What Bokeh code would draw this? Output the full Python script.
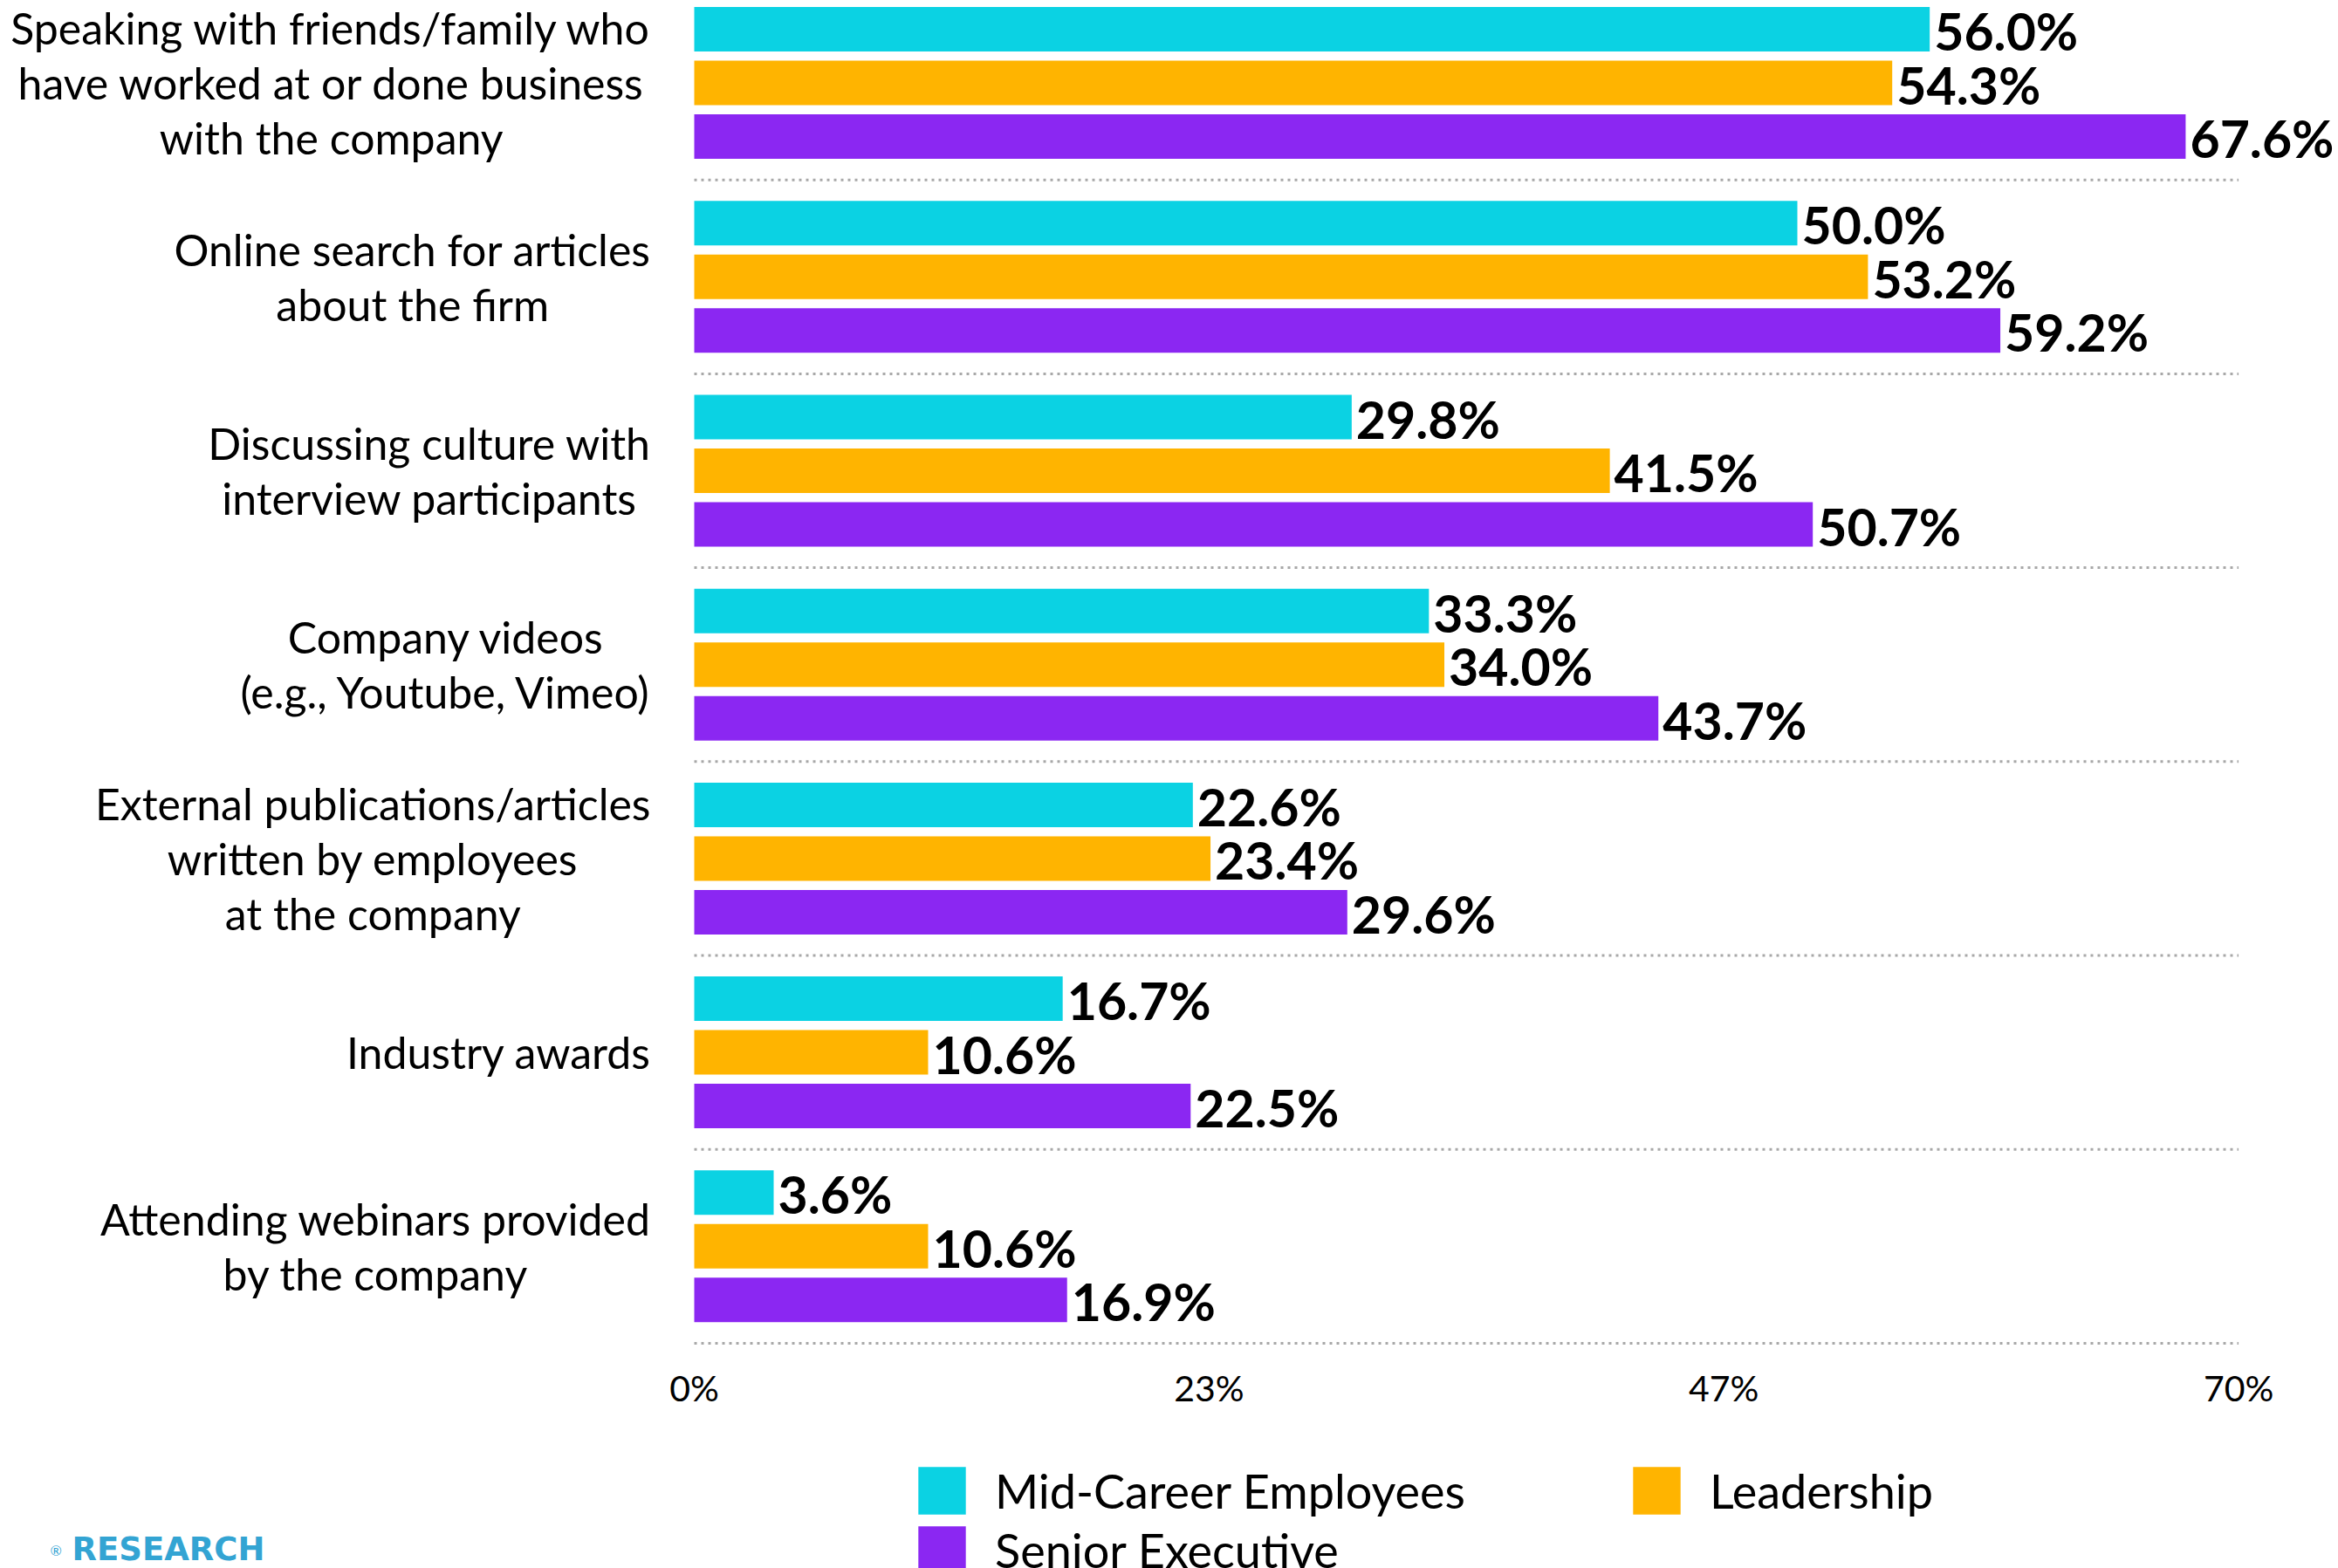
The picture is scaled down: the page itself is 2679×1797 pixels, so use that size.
import glob
import subprocess
from bokeh.plotting import figure
from bokeh.models import Range1d, ColumnDataSource, Legend, LegendItem
from bokeh.core.properties import value
from bokeh.embed import file_html
from bokeh.resources import INLINE

# ---------------- data ----------------
categories = [
    "Speaking with friends/family who\nhave worked at or done business\nwith the company",
    "Online search for articles\nabout the firm",
    "Discussing culture with\ninterview participants",
    "Company videos\n(e.g., Youtube, Vimeo)",
    "External publications/articles\nwritten by employees\nat the company",
    "Industry awards",
    "Attending webinars provided\nby the company",
]
series_names = ["Mid-Career Employees", "Leadership", "Senior Executive"]
mid_career = [56.0, 50.0, 29.8, 33.3, 22.6, 16.7, 3.6]
leadership = [54.3, 53.2, 41.5, 34.0, 23.4, 10.6, 10.6]
senior_exec = [67.6, 59.2, 50.7, 43.7, 29.6, 22.5, 16.9]
series_colors = ["#0BD2E3", "#FFB400", "#8B27F2"]
x_max = 70
tick_values = [0, 70 / 3, 140 / 3, 70]
tick_labels = ["0%", "23%", "47%", "70%"]
logo_text = "RESEARCH"

# ---------------- layout (pixels) ----------------
W, H = 2679, 1797
X0_PX = 795.0                      # x pixel of 0%
PX_PER_PCT = (2564.6 - X0_PX) / 70
PITCH = 222.2                      # pixels between group centers
C0 = 94.6                          # y pixel of first group center
BAR_H = 51 / PITCH
BAR_OFF = 61.5 / PITCH
CAT_FONT = 50
CAT_RIGHT_PX = 745


def px_x(px):
    return (px - X0_PX) / PX_PER_PCT


def px_y(py):
    return (py - C0) / PITCH


p = figure(width=W, height=H, output_backend="svg", toolbar_location=None,
           x_range=Range1d(px_x(0), px_x(W)), y_range=Range1d(px_y(H), px_y(0)),
           x_axis_location=None, y_axis_location=None,
           min_border_left=0, min_border_right=0,
           min_border_top=0, min_border_bottom=0)
p.outline_line_color = None
p.background_fill_color = "white"
p.border_fill_color = "white"
for g in p.grid:
    g.visible = False

n = len(categories)
idx = list(range(n))

# dotted separators
sep_y = [i + 0.5 for i in idx]
p.segment(x0=[0] * n, x1=[x_max] * n, y0=sep_y, y1=sep_y,
          line_color="#a8a8a8", line_width=3, line_dash="3 5")

renderers = []
label_sources = []
for s, (vals, col) in enumerate(zip([mid_career, leadership, senior_exec], series_colors)):
    off = (s - 1) * BAR_OFF
    ys = [i + off for i in idx]
    src = ColumnDataSource(dict(y=ys, v=vals, lab=[f"{v:.1f}%" for v in vals]))
    r = p.hbar(y="y", left=0, right="v", height=BAR_H, source=src,
               fill_color=col, line_color=None)
    renderers.append(r)
    label_sources.append(src)

for src in label_sources:
    p.text(x="v", y="y", text="lab", source=src, x_offset=5, y_offset=2,
           text_baseline="middle", text_align="left",
           text_font=value("Lato"), text_font_style="bold",
           text_font_size="59px", text_color="black")


# ---- category labels: lines centered, block right-aligned ----
def find_lato():
    try:
        out = subprocess.run(["fc-match", "-f", "%{file}", "Lato:style=Regular"],
                             capture_output=True, text=True, timeout=5).stdout.strip()
        if out and "lato" in out.lower():
            return out
    except Exception:
        pass
    for pat in ["/usr/share/fonts/**/Lato-Regular.ttf", "/usr/share/fonts/**/Lato*Regular*.ttf",
                "/usr/local/share/fonts/**/Lato*Regular*.ttf", "/usr/share/fonts/**/Lato*.ttf"]:
        hits = glob.glob(pat, recursive=True)
        if hits:
            return sorted(hits)[0]
    return None


LATO_PATH = find_lato()


def text_width(line, size):
    if LATO_PATH:
        try:
            from PIL import ImageFont
            return ImageFont.truetype(LATO_PATH, size).getlength(line)
        except Exception:
            pass
    return 0.47 * size * len(line)


cat_x = []
for c in categories:
    w = max(text_width(line, CAT_FONT) for line in c.split("\n"))
    cat_x.append(px_x(CAT_RIGHT_PX - w / 2))

p.text(x=cat_x, y=idx, text=categories, text_align="center", text_baseline="middle",
       text_font=value("Lato"), text_font_size=f"{CAT_FONT}px", text_color="black",
       text_line_height=1.05)

# x tick labels
p.text(x=tick_values, y=[px_y(1588.5)] * len(tick_values), text=tick_labels,
       text_align="center", text_baseline="middle", y_offset=1,
       text_font=value("Lato"), text_font_size="41px", text_color="black")

# legend (box glyphs are drawn with a 10% inset, so the glyph area is 54 / 0.8)
legend = Legend(items=[LegendItem(label=nm, renderers=[r]) for nm, r in zip(series_names, renderers)],
                orientation="horizontal", ncols=2, location=(1045, -13),
                padding=0, margin=0, border_line_color=None, background_fill_alpha=0,
                glyph_width=68, glyph_height=68, label_standoff=27,
                label_text_font="Lato", label_text_font_size="54px",
                label_text_color="black", spacing=0, label_width=724)
p.add_layout(legend)

# logo text
p.text(x=[px_x(82)], y=[px_y(1775)], text=[logo_text], text_align="left",
       text_baseline="middle", text_font=value("DejaVu Sans"), text_font_style="bold",
       text_font_size="37px", text_color="#33A4D3")
p.text(x=[px_x(57)], y=[px_y(1776)], text=["®"], text_align="left",
       text_baseline="middle", text_font=value("Lato"),
       text_font_size="16px", text_color="#33A4D3")

open("out.html", "w").write(file_html(p, INLINE))
